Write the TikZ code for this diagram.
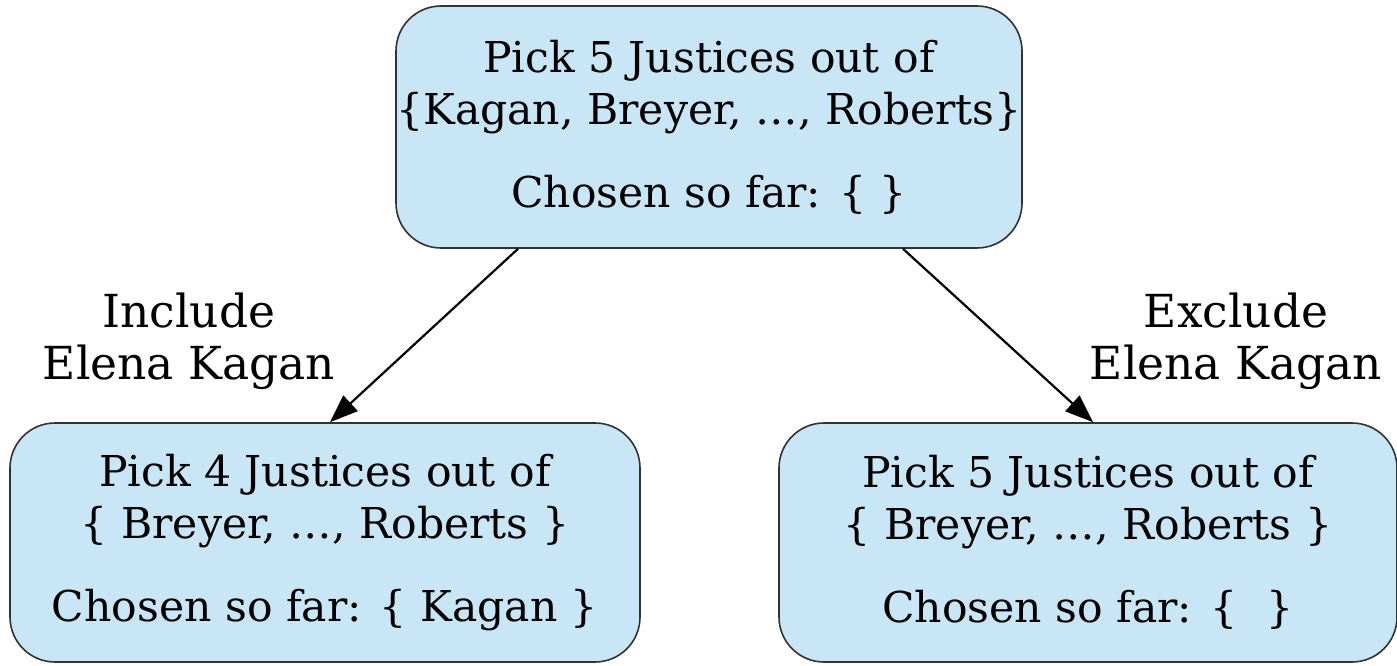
\documentclass[tikz,border=0pt]{standalone}
\usepackage{fontspec}
\setmainfont{DejaVu Serif}
\usetikzlibrary{arrows.meta,calc}
\definecolor{boxfill}{RGB}{200,230,245}
\definecolor{boxline}{RGB}{50,50,50}
\begin{document}
\begin{tikzpicture}[x=1pt,y=-1pt,
  box/.style={draw=boxline,fill=boxfill,line width=1.6pt,rounded corners=45pt,
    align=center,inner sep=0pt,font=\fontsize{42.5}{52}\selectfont},
  lbl/.style={align=center,inner sep=0pt,font=\fontsize{45.5}{52}\selectfont},
  arr/.style={line width=2.2pt,-{Triangle[length=28pt,width=21pt]}}]
\useasboundingbox (0,0) rectangle (1397,666);
\node[box,minimum width=626pt,minimum height=242pt] (top) at (709,127)
  {Pick 5 Justices out of\\ \{Kagan, Breyer, …, Roberts\}\\[31pt] Chosen so far: \{ \}};
\node[box,minimum width=630pt,minimum height=239pt] (left) at (325,542.5)
  {Pick 4 Justices out of\\ \{ Breyer, …, Roberts \}\\[31pt] Chosen so far: \{ Kagan \}};
\node[box,minimum width=618pt,minimum height=239pt] (right) at (1088,542.5)
  {Pick 5 Justices out of\\ \{ Breyer, …, Roberts \}\\[31pt] Chosen so far: \{\hspace{0.7em}\}};
\node[lbl] (inc) at (189,341) {Include\\ Elena Kagan};
\node[lbl] (exc) at (1236,341) {Exclude\\ Elena Kagan};
\coordinate (s1) at ($(top.south)+(-191,0)$);
\coordinate (s2) at ($(top.south)+(194,0)$);
\coordinate (e1) at ($(left.north)+(5,0)$);
\coordinate (e2) at ($(right.north)+(5,0)$);
\draw[arr] (s1) -- (e1);
\draw[arr] (s2) -- (e2);
\end{tikzpicture}
\end{document}
